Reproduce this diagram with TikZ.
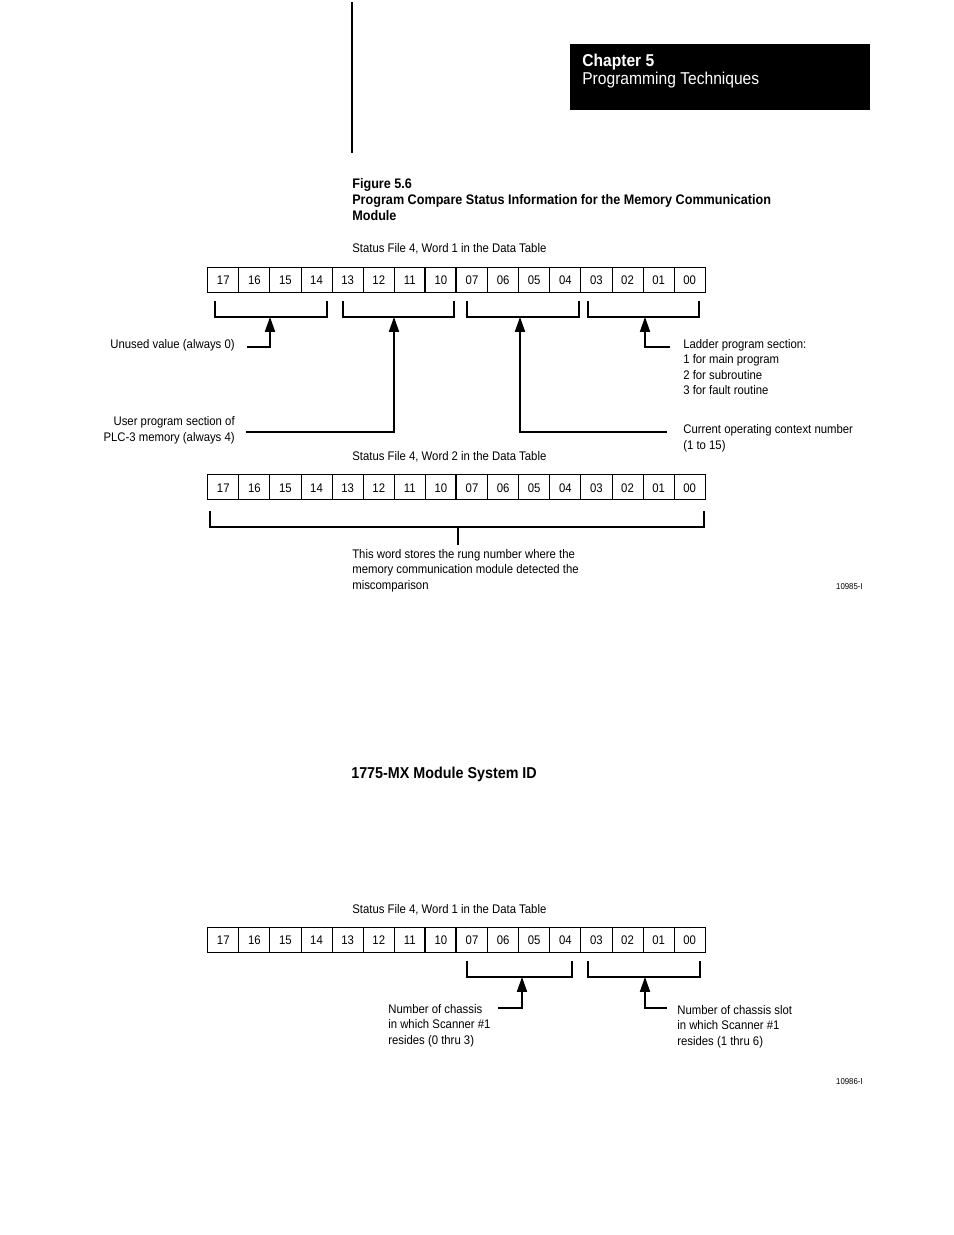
\documentclass[tikz,border=0pt]{standalone}
\usepackage{fontspec}
\setmainfont[FakeStretch=0.91]{Liberation Sans}
\usetikzlibrary{arrows.meta,positioning,calc,matrix}

\tikzset{
  cell/.style={draw,line width=0.6pt,minimum width=19.95pt,minimum height=16pt,inner sep=0pt,
    text height=6.6pt,text depth=0pt,anchor=center},
  bitword/.style={matrix of nodes,nodes={cell},column sep=-0.6pt,inner sep=0pt,ampersand replacement=\&},
  lbl/.style={inner sep=0pt,align=left,font=\fontsize{8}{9.85}\selectfont},
  rlbl/.style={lbl,align=right},
  brace/.style={line width=0.8pt},
  lead/.style={line width=0.8pt,-{Triangle[length=9.5pt,width=6.5pt]}},
}

\begin{document}
\begin{tikzpicture}[x=0.6415pt,y=-0.6415pt,font=\fontsize{8}{9.85}\selectfont]
  \useasboundingbox (0,0) rectangle (954,1235);

  % page header
  \draw[line width=0.8pt] (352,2) -- (352,153);
  \fill (570,44) rectangle (870,110);
  \node[inner sep=0pt,anchor=base west,text=white,font=\fontsize{11}{13}\selectfont\bfseries] (chap) at (582,66) {Chapter 5};
  \node[inner sep=0pt,anchor=base west,text=white,font=\fontsize{11}{13}\selectfont] (chaptitle) at (582,84) {Programming Techniques};

  % figure title (base = last line)
  \node[lbl,anchor=base west,font=\fontsize{8.9}{10}\selectfont\bfseries] (fig) at (352,220)
    {Figure 5.6\\Program Compare Status Information for the Memory Communication\\Module};

  % word 1
  \node[lbl,anchor=base west] (w1cap) at (352,252.5) {Status File 4, Word 1 in the Data Table};
  \matrix[bitword] (w1) at (456.5,279.5) {%
    17 \& 16 \& 15 \& 14 \& 13 \& 12 \& 11 \& 10 \& 07 \& 06 \& 05 \& 04 \& 03 \& 02 \& 01 \& 00\\
  };
  \draw[line width=1.2pt] (w1-1-8.north west) -- (w1-1-8.south west);
  \draw[line width=1.2pt] (w1-1-9.north west) -- (w1-1-9.south west);

  \draw[brace] (215,301) -- (215,317) -- (327,317) -- (327,301);
  \draw[brace] (343,301) -- (343,317) -- (454,317) -- (454,301);
  \draw[brace] (467,301) -- (467,317) -- (579,317) -- (579,301);
  \draw[brace] (588,301) -- (588,317) -- (699,317) -- (699,301);
  \coordinate (b1) at (270,317);
  \coordinate (b2) at (394,317);
  \coordinate (b3) at (520,317);
  \coordinate (b4) at (645,317);

  \node[rlbl,anchor=base east] (unused) at (235,348.5) {Unused value (always 0)};
  \node[rlbl,anchor=base east] (userprog) at (235,441) {User program section of\\PLC-3 memory (always 4)};
  \node[lbl,anchor=base west] (ladder) at (683,394.5) {Ladder program section:\\1 for main program\\2 for subroutine\\3 for fault routine};
  \node[lbl,anchor=base west] (context) at (683,449) {Current operating context number\\(1 to 15)};

  \coordinate (l1) at (247,347);
  \coordinate (l2) at (246,432);
  \coordinate (l3) at (667,432);
  \coordinate (l4) at (670,347);
  \draw[lead] (l1) -| (b1);
  \draw[lead] (l2) -| (b2);
  \draw[lead] (l3) -| (b3);
  \draw[lead] (l4) -| (b4);

  % word 2
  \node[lbl,anchor=base west] (w2cap) at (352,460.5) {Status File 4, Word 2 in the Data Table};
  \matrix[bitword] (w2) at (456.5,487) {%
    17 \& 16 \& 15 \& 14 \& 13 \& 12 \& 11 \& 10 \& 07 \& 06 \& 05 \& 04 \& 03 \& 02 \& 01 \& 00\\
  };
  \draw[line width=1.2pt] (w2-1-9.north west) -- (w2-1-9.south west);
  \draw[brace] (210,511) -- (210,527) -- (704,527) -- (704,511);
  \coordinate (b5) at (458,527);
  \coordinate (l5) at (458,545);
  \draw[brace] (b5) -- (l5);
  \node[lbl,anchor=base west] (rung) at (352,589)
    {This word stores the rung number where the\\memory communication module detected the\\miscomparison};
  \node[inner sep=0pt,anchor=base east,font=\fontsize{5.5}{6}\selectfont] (id1) at (863,589) {10985-I};

  % system id
  \node[inner sep=0pt,anchor=base west,font=\fontsize{10.1}{12}\selectfont\bfseries] (sysid) at (351,778) {1775-MX Module System ID};

  % word 3
  \node[lbl,anchor=base west] (w3cap) at (352,913.5) {Status File 4, Word 1 in the Data Table};
  \matrix[bitword] (w3) at (456.5,939.5) {%
    17 \& 16 \& 15 \& 14 \& 13 \& 12 \& 11 \& 10 \& 07 \& 06 \& 05 \& 04 \& 03 \& 02 \& 01 \& 00\\
  };
  \draw[line width=1.2pt] (w3-1-8.north west) -- (w3-1-8.south west);
  \draw[line width=1.2pt] (w3-1-9.north west) -- (w3-1-9.south west);

  \draw[brace] (467,961) -- (467,977) -- (572,977) -- (572,961);
  \draw[brace] (588,961) -- (588,977) -- (700,977) -- (700,961);
  \coordinate (b6) at (522,977);
  \coordinate (b7) at (645,977);
  \node[lbl,anchor=base west] (chassis) at (388,1044) {Number of chassis\\in which Scanner \#1\\resides (0 thru 3)};
  \node[lbl,anchor=base west] (slot) at (677,1045) {Number of chassis slot\\in which Scanner \#1\\resides (1 thru 6)};
  \coordinate (l6) at (498,1008);
  \coordinate (l7) at (667,1008);
  \draw[lead] (l6) -| (b6);
  \draw[lead] (l7) -| (b7);
  \node[inner sep=0pt,anchor=base east,font=\fontsize{5.5}{6}\selectfont] (id2) at (863,1084) {10986-I};
\end{tikzpicture}
\end{document}
